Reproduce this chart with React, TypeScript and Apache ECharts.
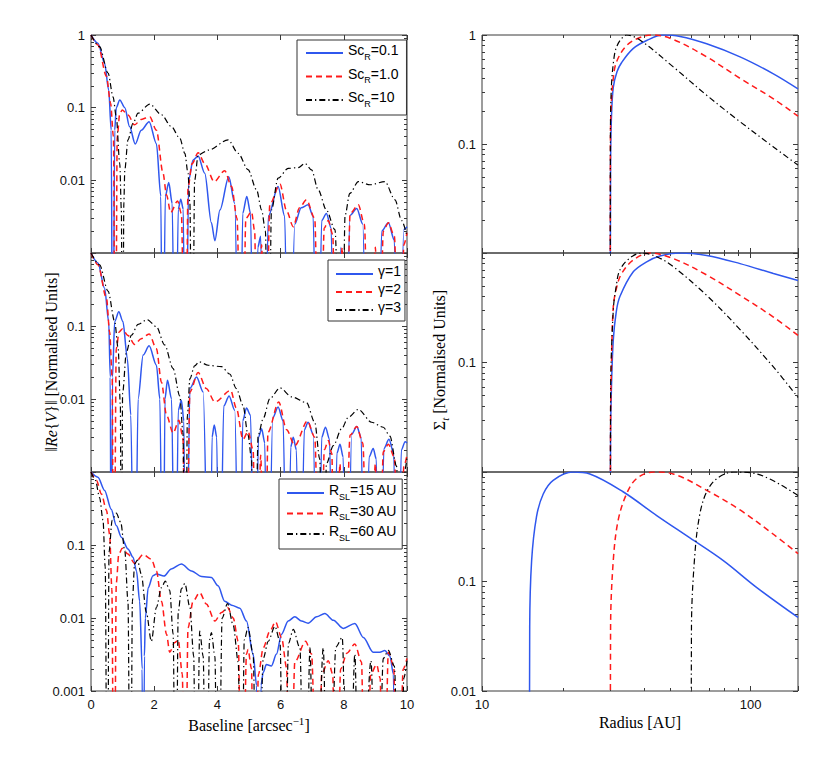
import React, { useEffect, useRef } from "react";
import * as echarts from "echarts";

// ---------------- data ----------------
const scLabels = ["Sc_R=0.1", "Sc_R=1.0", "Sc_R=10"];
const gammaLabels = ["γ=1", "γ=2", "γ=3"];
const rslLabels = ["R_SL=15 AU", "R_SL=30 AU", "R_SL=60 AU"];

const visMinorTicks = [0.002, 0.003, 0.004, 0.005, 0.006, 0.007, 0.008, 0.009, 0.02, 0.03, 0.04, 0.05, 0.06, 0.07, 0.08, 0.09, 0.2, 0.3, 0.4, 0.5, 0.6, 0.7, 0.8, 0.9];
const sigmaMinorTicks = [0.02, 0.03, 0.04, 0.05, 0.06, 0.07, 0.08, 0.09, 0.2, 0.3, 0.4, 0.5, 0.6, 0.7, 0.8, 0.9];
const radiusMinorTicks = [20, 30, 40, 50, 60, 70, 80, 90];

// Top-left: visibility, Sc_R variations
const visScBlue = [[0,1],[0.22,0.77],[0.43,0.41],[0.56,0.175],[0.64,0.049],[0.69,1e-6],[0.75,0.049],[0.8,0.1],[0.91,0.128],[1.07,0.1],[1.22,0.055],[1.4,0.0316],[1.59,0.049],[1.84,0.064],[2.07,0.032],[2.21,0.006],[2.27,1e-6],[2.35,0.006],[2.46,0.0093],[2.57,0.0048],[2.67,1e-6],[2.76,0.004],[2.84,0.0055],[2.92,0.004],[2.99,1e-6],[3.09,0.01],[3.23,0.019],[3.39,0.0216],[3.6,0.0125],[3.81,0.0026],[3.92,0.00148],[4.08,0.0039],[4.36,0.0112],[4.55,0.0048],[4.71,1e-6],[4.8,0.0035],[4.93,0.006],[5.05,0.0035],[5.16,1e-6],[5.28,0.0012],[5.37,0.0017],[5.48,1e-6],[5.61,0.0032],[5.92,0.0082],[6.13,0.0032],[6.26,1e-6],[6.45,0.0025],[6.65,0.0042],[6.87,0.0046],[7.03,0.0032],[7.17,1e-6],[7.3,0.0028],[7.45,0.0035],[7.6,0.0022],[7.72,1e-6],[7.91,0.0012],[8.01,1e-6],[8.2,0.0033],[8.41,0.0041],[8.6,0.0025],[8.77,1e-6],[8.93,0.0009],[9.05,1e-6],[9.2,0.002],[9.41,0.0026],[9.6,0.0015],[9.73,1e-6],[9.9,0.0021],[10,0.0023]];
const visScRed = [[0,1],[0.22,0.73],[0.49,0.27],[0.62,0.115],[0.71,0.04],[0.77,1e-6],[0.83,0.04],[0.91,0.083],[0.99,0.093],[1.17,0.079],[1.38,0.058],[1.59,0.069],[1.86,0.075],[2.07,0.049],[2.28,0.0125],[2.39,0.0063],[2.52,0.0036],[2.74,0.0052],[2.86,0.0035],[2.99,1e-6],[3.07,0.008],[3.2,0.017],[3.39,0.024],[3.6,0.017],[3.9,0.0096],[4.23,0.0136],[4.45,0.0082],[4.62,0.003],[4.78,1e-6],[4.9,0.003],[5.08,0.0037],[5.18,0.002],[5.27,1e-6],[5.4,0.0013],[5.5,1e-6],[5.66,0.0047],[5.98,0.0089],[6.19,0.0038],[6.4,0.0023],[6.6,0.0042],[6.82,0.0054],[7.08,0.003],[7.24,1e-6],[7.38,0.0022],[7.51,0.0028],[7.65,0.0018],[7.77,1e-6],[7.95,0.0012],[8.05,1e-6],[8.2,0.0035],[8.46,0.0046],[8.65,0.0025],[8.83,1e-6],[9.0,0.0012],[9.1,1e-6],[9.25,0.002],[9.41,0.0026],[9.6,0.0017],[9.78,1e-6],[9.9,0.0013],[10,0.0019]];
const visScBlack = [[0,1],[0.27,0.69],[0.54,0.3],[0.7,0.14],[0.8,0.075],[0.91,0.017],[0.96,0.004],[1.0,1e-6],[1.04,0.005],[1.07,0.014],[1.17,0.036],[1.33,0.061],[1.49,0.084],[1.86,0.112],[2.23,0.08],[2.54,0.055],[2.81,0.038],[2.97,0.0235],[3.07,0.0125],[3.13,0.0048],[3.2,1e-6],[3.28,0.01],[3.39,0.0223],[3.71,0.026],[4.34,0.036],[4.66,0.0235],[4.97,0.014],[5.24,0.0074],[5.4,0.0039],[5.52,0.002],[5.61,1e-6],[5.71,0.0039],[5.92,0.0107],[6.24,0.0146],[6.56,0.015],[6.77,0.0171],[6.98,0.0139],[7.19,0.0074],[7.45,0.0039],[7.72,0.0021],[7.93,1e-6],[8.04,0.0033],[8.19,0.0066],[8.46,0.0096],[8.83,0.0087],[9.3,0.0096],[9.62,0.0054],[9.83,0.0028],[10,0.0017]];

// Middle-left: visibility, gamma variations
const visGBlue = [[0,1],[0.22,0.73],[0.43,0.33],[0.56,0.115],[0.61,0.02],[0.64,1e-6],[0.68,0.02],[0.75,0.115],[0.88,0.157],[1.01,0.115],[1.15,0.036],[1.26,0.006],[1.38,1e-6],[1.49,0.01],[1.65,0.04],[1.84,0.0535],[2.07,0.029],[2.18,0.01],[2.28,1e-6],[2.34,0.01],[2.42,0.018],[2.55,0.01],[2.67,1e-6],[2.76,0.007],[2.86,0.0096],[2.94,0.005],[3.0,1e-6],[3.13,0.014],[3.34,0.02],[3.55,0.0125],[3.76,1e-6],[3.83,0.003],[3.9,0.0044],[3.98,0.003],[4.06,1e-6],[4.2,0.008],[4.37,0.011],[4.55,0.007],[4.71,1e-6],[4.8,0.005],[4.92,0.0075],[5.05,0.006],[5.18,1e-6],[5.3,0.003],[5.4,0.0039],[5.5,0.0025],[5.59,1e-6],[5.75,0.0055],[5.92,0.0078],[6.08,0.005],[6.22,1e-6],[6.32,0.0022],[6.4,0.003],[6.5,0.002],[6.61,1e-6],[6.75,0.0038],[6.87,0.0048],[7.03,0.0033],[7.19,1e-6],[7.3,0.003],[7.42,0.0041],[7.55,0.0028],[7.67,1e-6],[7.78,0.0018],[7.88,0.0024],[7.98,0.0016],[8.09,1e-6],[8.25,0.0033],[8.41,0.0042],[8.55,0.003],[8.67,1e-6],[8.8,0.0016],[8.93,0.0021],[9.03,0.0015],[9.12,1e-6],[9.27,0.0021],[9.43,0.0028],[9.58,0.0018],[9.7,1e-6],[9.82,0.002],[9.94,0.0026],[10,0.0025]];
const visGRed = [[0,1],[0.22,0.69],[0.49,0.24],[0.59,0.083],[0.67,0.02],[0.72,1e-6],[0.8,0.049],[0.89,0.083],[0.99,0.091],[1.17,0.074],[1.38,0.056],[1.59,0.067],[1.84,0.078],[2.07,0.049],[2.23,0.017],[2.39,0.006],[2.6,0.0034],[2.78,0.0051],[2.91,0.003],[3.0,1e-6],[3.13,0.0125],[3.39,0.023],[3.65,0.0139],[3.92,0.0091],[4.42,0.0131],[4.6,0.0075],[4.81,0.0028],[4.97,0.0036],[5.13,0.002],[5.24,1e-6],[5.37,0.0017],[5.5,1e-6],[5.6,0.0035],[5.94,0.0091],[6.19,0.0038],[6.45,0.0023],[6.85,0.005],[7.08,0.003],[7.27,1e-6],[7.38,0.002],[7.51,0.0027],[7.62,0.0018],[7.72,1e-6],[7.88,0.0013],[7.98,1e-6],[8.2,0.0032],[8.41,0.0042],[8.6,0.0025],[8.8,1e-6],[9.0,0.0013],[9.1,1e-6],[9.25,0.0019],[9.41,0.0024],[9.6,0.0016],[9.78,1e-6],[9.9,0.0012],[10,0.0017]];
const visGBlack = [[0,1],[0.27,0.69],[0.54,0.3],[0.75,0.115],[0.86,0.049],[0.93,0.008],[0.96,1e-6],[1.0,0.012],[1.12,0.044],[1.28,0.075],[1.49,0.105],[1.78,0.122],[2.07,0.098],[2.33,0.055],[2.6,0.026],[2.81,0.011],[2.91,0.0035],[2.99,1e-6],[3.05,0.006],[3.13,0.019],[3.28,0.0285],[3.42,0.0323],[3.71,0.029],[4.13,0.0277],[4.39,0.022],[4.6,0.0139],[4.81,0.0082],[4.97,0.0032],[5.08,0.0015],[5.16,1e-6],[5.29,0.0032],[5.45,0.0054],[5.66,0.0101],[5.98,0.0142],[6.35,0.0107],[6.82,0.0089],[7.08,0.0048],[7.24,0.0015],[7.35,1e-6],[7.45,0.0013],[7.67,0.0023],[7.93,0.0039],[8.14,0.0056],[8.46,0.0072],[8.88,0.0048],[9.25,0.0041],[9.46,0.0031],[9.67,0.0012],[9.83,1e-6],[9.94,0.0011],[10,0.0016]];

// Bottom-left: visibility, R_SL variations
const visRBlue = [[0,1],[0.22,0.85],[0.43,0.56],[0.64,0.31],[0.8,0.185],[0.96,0.128],[1.17,0.088],[1.33,0.068],[1.44,0.044],[1.54,0.017],[1.62,0.002],[1.65,1e-6],[1.69,0.003],[1.72,0.01],[1.81,0.026],[1.96,0.038],[2.07,0.04],[2.31,0.0375],[2.54,0.047],[2.86,0.055],[3.18,0.044],[3.5,0.037],[3.81,0.036],[4.02,0.0276],[4.23,0.017],[4.45,0.015],[4.71,0.0136],[4.92,0.0091],[5.13,0.0032],[5.24,0.0012],[5.31,1e-6],[5.38,0.0012],[5.45,0.0018],[5.55,0.0023],[5.71,0.0022],[5.87,0.0032],[6.03,0.006],[6.24,0.0091],[6.45,0.0104],[6.66,0.0091],[6.87,0.0085],[7.14,0.0104],[7.4,0.0115],[7.67,0.0093],[7.98,0.0072],[8.35,0.0084],[8.62,0.0054],[8.93,0.0034],[9.14,0.0034],[9.3,0.0036],[9.46,0.003],[9.57,0.0017],[9.65,1e-6],[9.8,0.0008],[10,0.0009]];
const visRRed = [[0,1],[0.17,0.77],[0.33,0.5],[0.49,0.3],[0.59,0.14],[0.66,0.025],[0.73,1e-6],[0.8,0.03],[0.88,0.075],[0.99,0.09],[1.17,0.075],[1.38,0.056],[1.65,0.074],[1.91,0.064],[2.07,0.044],[2.23,0.017],[2.39,0.006],[2.49,0.0034],[2.65,0.0046],[2.76,0.005],[2.89,0.0017],[2.97,1e-6],[3.07,0.0073],[3.23,0.017],[3.44,0.0223],[3.65,0.0155],[3.92,0.0091],[4.13,0.0119],[4.32,0.0139],[4.5,0.01],[4.66,0.0048],[4.78,1e-6],[4.92,0.0032],[4.97,0.0037],[5.08,0.002],[5.16,1e-6],[5.3,0.0017],[5.45,0.0039],[5.66,0.0066],[5.84,0.0089],[6.03,0.0054],[6.19,0.0021],[6.29,1e-6],[6.45,0.0025],[6.79,0.0048],[6.98,0.0032],[7.19,1e-6],[7.3,0.0017],[7.51,0.0026],[7.65,0.0017],[7.75,1e-6],[7.9,0.002],[8.1,0.0033],[8.35,0.0044],[8.56,0.0025],[8.69,1e-6],[8.85,0.0017],[9.04,0.0023],[9.15,0.0015],[9.25,1e-6],[9.41,0.0034],[9.58,0.0022],[9.7,1e-6],[9.88,0.002],[10,0.0028]];
const visRBlack = [[0,1],[0.14,0.77],[0.27,0.45],[0.38,0.22],[0.45,0.05],[0.52,1e-6],[0.57,0.08],[0.67,0.22],[0.8,0.273],[0.94,0.205],[1.07,0.083],[1.17,0.017],[1.25,1e-6],[1.31,0.017],[1.38,0.055],[1.47,0.062],[1.59,0.04],[1.75,0.012],[1.91,0.0048],[2.07,0.014],[2.23,0.026],[2.35,0.032],[2.49,0.024],[2.6,0.006],[2.68,1e-6],[2.76,0.012],[2.86,0.025],[2.97,0.0297],[3.13,0.014],[3.25,0.003],[3.33,1e-6],[3.44,0.0066],[3.55,0.003],[3.65,1e-6],[3.75,0.005],[3.81,0.0063],[3.92,0.003],[4.02,1e-6],[4.15,0.01],[4.32,0.0158],[4.5,0.008],[4.66,0.0025],[4.76,1e-6],[4.85,0.005],[4.97,0.0074],[5.13,0.0032],[5.27,1e-6],[5.45,0.0028],[5.61,0.0048],[5.82,0.0077],[5.98,0.0048],[6.11,1e-6],[6.25,0.0045],[6.4,0.007],[6.61,0.0039],[6.77,1e-6],[6.93,0.0039],[7.08,1e-6],[7.35,0.0039],[7.51,1e-6],[7.75,0.004],[7.95,0.0054],[8.14,1e-6],[8.35,0.0032],[8.5,1e-6],[8.86,0.0026],[9.05,1e-6],[9.25,0.0028],[9.41,0.0036],[9.6,0.0022],[9.78,1e-6],[9.9,0.0015],[10,0.0026]];

// Right column: surface density profiles
const sigScBlue = [[30,1e-4],[30.1,0.06],[30.3,0.165],[30.8,0.33],[31.8,0.46],[33.1,0.56],[36.5,0.75],[41,0.89],[47,1.0],[54.6,0.97],[68.6,0.83],[91.3,0.63],[121.5,0.44],[150,0.32]];
const sigScRed = [[30,1e-4],[30.05,0.08],[30.2,0.2],[30.8,0.4],[31.7,0.57],[34.5,0.8],[38.7,0.95],[43.4,1.0],[51.5,0.91],[68.6,0.63],[91.3,0.4],[121.5,0.26],[150,0.18]];
const sigScBlack = [[30,1e-4],[30.05,0.1],[30.3,0.33],[31.0,0.62],[31.7,0.78],[33.1,0.93],[34.5,1.0],[38.7,0.9],[51.5,0.51],[68.6,0.28],[91.3,0.16],[121.5,0.094],[150,0.064]];

const sigGBlue = [[30,1e-4],[30.1,0.02],[30.3,0.055],[30.8,0.16],[31.6,0.29],[32.6,0.4],[36.5,0.67],[41,0.83],[45.9,0.94],[54.6,1.0],[68.6,0.95],[91.3,0.8],[121.5,0.65],[150,0.56]];
const sigGRed = [[30,1e-4],[30.1,0.03],[30.3,0.08],[30.8,0.32],[31.8,0.5],[33.1,0.65],[36.5,0.86],[42.2,1.0],[51.5,0.89],[68.6,0.63],[91.3,0.41],[121.5,0.26],[150,0.177]];
const sigGBlack = [[30,1e-4],[30.1,0.05],[30.8,0.3],[31.6,0.5],[32.6,0.7],[35.5,0.9],[39.3,1.0],[44.7,0.925],[51.5,0.75],[68.6,0.41],[91.3,0.2],[121.5,0.091],[150,0.048]];

const sigRBlue = [[15,1e-4],[15.05,0.038],[15.3,0.155],[15.95,0.39],[16.9,0.63],[18.4,0.84],[21.8,1.0],[25.2,0.96],[33.5,0.66],[44.7,0.4],[59.4,0.25],[79.1,0.155],[105.4,0.088],[150,0.047]];
const sigRRed = [[30,1e-4],[30.1,0.038],[30.8,0.155],[32.1,0.36],[34.5,0.63],[37.6,0.87],[43.4,1.0],[51.5,0.96],[68.6,0.68],[91.3,0.45],[121.5,0.27],[150,0.18]];
const sigRBlack = [[60,1e-4],[60.2,0.038],[62,0.18],[64.7,0.415],[68.6,0.66],[74.8,0.87],[86.2,1.0],[105.4,0.96],[150,0.61]];

// ---------------- styling ----------------
const FONT = "'Liberation Sans', Arial, sans-serif";
const SERIF = "'Liberation Serif', 'Times New Roman', serif";
const BLUE = "#2f57ee";
const RED = "#ff1a1a";
const BLACK = "#000000";
const FRAME = "#3a3a3a";

const lineStyles = [
  { color: BLUE, width: 1.5, type: "solid" },
  { color: RED, width: 1.5, type: [6, 4] },
  { color: BLACK, width: 1.2, type: [6, 3, 1.3, 3] },
];

function decadeLabel(v: number, allowed: number[]): string {
  const lg = Math.log10(v);
  const e = Math.round(lg);
  if (Math.abs(lg - e) > 1e-6) return "";
  if (allowed.indexOf(e) < 0) return "";
  return e >= 0 ? String(Math.pow(10, e)) : "0." + "0".repeat(-e - 1) + "1";
}

function legendFmt(name: string): string {
  const m = name.match(/^([^_]+)_([A-Z]+)(=.*)$/);
  if (m) return `{b|${m[1]}}{sub|${m[2]}}{b|${m[3]}}`;
  return `{b|${name}}`;
}

function buildOption() {
  const grid: any[] = [];
  const xAxis: any[] = [];
  const yAxis: any[] = [];
  const series: any[] = [];
  const colL = { left: 91, width: 316 };
  const colR = { left: 482, width: 316 };
  const rows = [
    { top: 35, height: 218 },
    { top: 253, height: 219 },
    { top: 472, height: 219 },
  ];
  const panels = [
    { col: "L", row: 0, names: scLabels, data: [visScBlue, visScRed, visScBlack], yLab: [0, -1, -2], xLab: false },
    { col: "L", row: 1, names: gammaLabels, data: [visGBlue, visGRed, visGBlack], yLab: [-1, -2], xLab: false },
    { col: "L", row: 2, names: rslLabels, data: [visRBlue, visRRed, visRBlack], yLab: [-1, -2, -3], xLab: true },
    { col: "R", row: 0, names: scLabels.map((n) => "Σ " + n), data: [sigScBlue, sigScRed, sigScBlack], yLab: [0, -1], xLab: false },
    { col: "R", row: 1, names: gammaLabels.map((n) => "Σ " + n), data: [sigGBlue, sigGRed, sigGBlack], yLab: [-1], xLab: false },
    { col: "R", row: 2, names: rslLabels.map((n) => "Σ " + n), data: [sigRBlue, sigRRed, sigRBlack], yLab: [-1, -2], xLab: true },
  ];
  const tick = (len: number) => ({ show: true, inside: true, length: len, lineStyle: { color: FRAME, width: 1 } });
  const noLine = { show: false, onZero: false };
  const labelBase = { fontSize: 13, fontFamily: FONT, color: "#111" };

  panels.forEach((p, gi) => {
    const isL = p.col === "L";
    const c = isL ? colL : colR;
    const r = rows[p.row];
    grid.push({
      left: c.left, top: r.top, width: c.width, height: r.height,
      show: true, borderColor: FRAME, borderWidth: 1, backgroundColor: "rgba(0,0,0,0)",
      containLabel: false, outerBoundsMode: "none",
    });
    const xMin = isL ? 0 : 10;
    const xMax = isL ? 10 : 150;
    const yMin = isL ? 0.001 : 0.01;
    const yMax = 1;
    const xi = xAxis.length;
    ["bottom", "top"].forEach((pos) => {
      const ax: any = {
        gridIndex: gi, type: isL ? "value" : "log", min: xMin, max: xMax, position: pos,
        axisLine: noLine, axisTick: tick(5), splitLine: { show: false },
        axisLabel: {
          show: pos === "bottom" && p.xLab, margin: 7, ...labelBase,
          showMinLabel: true, showMaxLabel: true,
          formatter: isL ? (v: number) => String(v) : (v: number) => decadeLabel(v, [1, 2]),
        },
      };
      if (isL) ax.interval = 2; else ax.logBase = 10;
      xAxis.push(ax);
    });
    if (!isL) {
      ["bottom", "top"].forEach((pos) => {
        xAxis.push({
          gridIndex: gi, type: "value", min: 1, max: Math.log10(150), position: pos,
          axisLine: noLine, axisTick: { ...tick(3), customValues: radiusMinorTicks.map(Math.log10) },
          axisLabel: { show: false }, splitLine: { show: false },
        });
      });
    }
    const yi = yAxis.length;
    ["left", "right"].forEach((pos) => {
      yAxis.push({
        gridIndex: gi, type: "log", logBase: 10, min: yMin, max: yMax, position: pos,
        axisLine: noLine, axisTick: tick(5), splitLine: { show: false },
        axisLabel: {
          show: pos === "left", margin: 6, ...labelBase, showMinLabel: true, showMaxLabel: true,
          formatter: (v: number) => decadeLabel(v, p.yLab),
        },
      });
    });
    const minor = isL ? visMinorTicks : sigmaMinorTicks;
    ["left", "right"].forEach((pos) => {
      yAxis.push({
        gridIndex: gi, type: "value", min: Math.log10(yMin), max: 0, position: pos,
        axisLine: noLine, axisTick: { ...tick(3), customValues: minor.map(Math.log10) },
        axisLabel: { show: false }, splitLine: { show: false },
      });
    });
    p.data.forEach((d, k) => {
      const s: any = {
        type: "line", name: p.names[k], xAxisIndex: xi, yAxisIndex: yi, data: d,
        showSymbol: false, symbol: "none", clip: true,
        lineStyle: lineStyles[k], itemStyle: { color: lineStyles[k].color },
        emphasis: { disabled: true }, z: 3,
      };
      if (isL) { s.smooth = 0.3; s.smoothMonotone = "x"; } else { s.smooth = 0.35; }
      series.push(s);
    });
  });

  const legendBase = {
    orient: "vertical", itemWidth: 37, itemHeight: 14, borderColor: "#333", borderWidth: 1,
    backgroundColor: "#ffffff", selectedMode: false, borderRadius: 0, z: 10,
    itemStyle: { opacity: 0, borderWidth: 0 },
    formatter: legendFmt,
    textStyle: {
      fontFamily: FONT, fontSize: 14, color: "#000",
      rich: {
        b: { fontFamily: FONT, fontSize: 14, color: "#000", verticalAlign: "bottom", lineHeight: 16, padding: [0, 0, 4, 0] },
        sub: { fontFamily: FONT, fontSize: 9, color: "#000", verticalAlign: "bottom", lineHeight: 10 },
      },
    },
  };
  const legend = [
    { ...legendBase, data: scLabels, left: 297, top: 40, padding: [3, 8, 7, 8], itemGap: 5.5 },
    { ...legendBase, data: gammaLabels, left: 328, top: 260, padding: [4, 4, 3, 7], itemGap: 0 },
    { ...legendBase, data: rslLabels, left: 279, top: 479, padding: [4, 5, 7, 7], itemGap: 2.5 },
  ];

  const graphic = [
    {
      type: "text", x: 51, y: 362, rotation: Math.PI / 2, z: 20,
      style: {
        text: "‖{i|Re}{{i|V}}‖ [Normalised Units]",
        fontFamily: SERIF, fontSize: 16, fill: "#000", align: "center", verticalAlign: "middle",
        rich: { i: { fontFamily: SERIF, fontSize: 16, fontStyle: "italic", fill: "#000" } },
      },
    },
    {
      type: "text", x: 441, y: 360, rotation: Math.PI / 2, z: 20,
      style: {
        text: "{b|Σ}{t|t}{b| [Normalised Units]}",
        fontFamily: SERIF, fontSize: 16, fill: "#000", align: "center", verticalAlign: "middle",
        rich: {
          b: { fontFamily: SERIF, fontSize: 16, fill: "#000", verticalAlign: "bottom", lineHeight: 18, padding: [0, 0, 3, 0] },
          t: { fontFamily: SERIF, fontSize: 11, fontStyle: "italic", fill: "#000", verticalAlign: "bottom", lineHeight: 11 },
        },
      },
    },
    {
      type: "text", x: 249, y: 724, z: 20,
      style: {
        text: "{b|Baseline [arcsec}{s|−1}{b|]}",
        fontFamily: SERIF, fontSize: 16, fill: "#000", align: "center", verticalAlign: "middle",
        rich: {
          b: { fontFamily: SERIF, fontSize: 16, fill: "#000", verticalAlign: "bottom", lineHeight: 18, padding: [3, 0, 0, 0] },
          s: { fontFamily: SERIF, fontSize: 11, fill: "#000", verticalAlign: "top", lineHeight: 11 },
        },
      },
    },
    {
      type: "text", x: 640, y: 722, z: 20,
      style: { text: "Radius [AU]", fontFamily: SERIF, fontSize: 16, fill: "#000", align: "center", verticalAlign: "middle" },
    },
  ];

  return {
    animation: false,
    backgroundColor: "#ffffff",
    grid, xAxis, yAxis, series, legend, graphic,
    tooltip: { show: false },
  };
}

export default function App() {
  const ref = useRef<HTMLDivElement>(null);
  useEffect(() => {
    if (!ref.current) return;
    const chart = echarts.init(ref.current, undefined, { renderer: "svg" });
    chart.setOption(buildOption() as any);
    return () => chart.dispose();
  }, []);
  return (
    <div
      ref={ref}
      style={{ position: "absolute", left: 0, top: 0, width: 830, height: 769, background: "#fff" }}
    />
  );
}
